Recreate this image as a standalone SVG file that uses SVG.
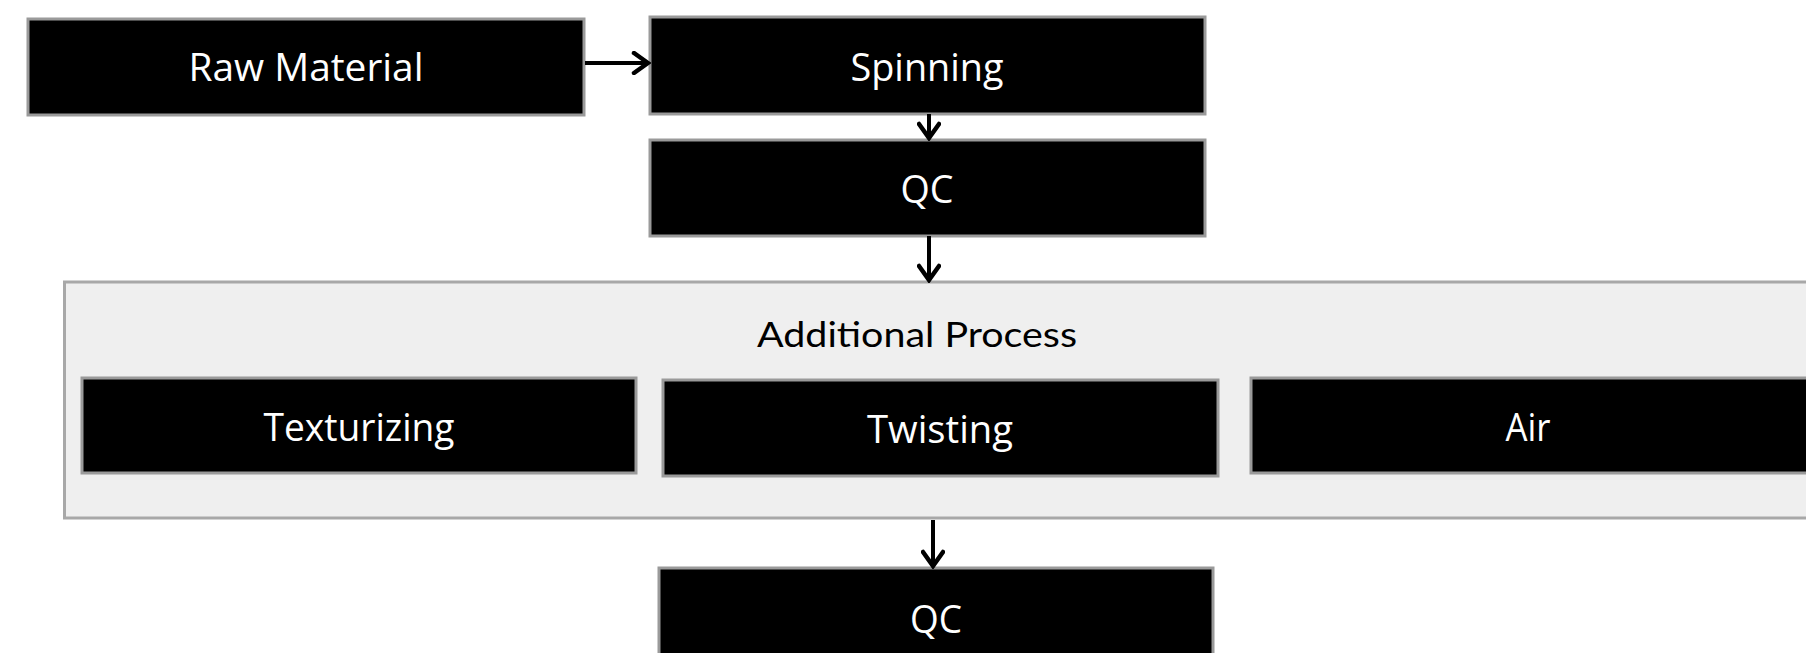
<svg xmlns="http://www.w3.org/2000/svg" width="1806" height="653" viewBox="0 0 1806 653">
<defs>
<style>
.box{fill:#000;stroke:#9a9a9a;stroke-width:3}
.lbl{fill:#fff;font-family:"Open Sans","Noto Sans",sans-serif;font-size:38px;text-anchor:middle;dominant-baseline:central}
.cont{fill:#efefef;stroke:#a8a8a8;stroke-width:3}
.title{fill:#000;font-family:"Lato","DejaVu Sans",sans-serif;font-size:35px;text-anchor:middle;dominant-baseline:central}
.conn{stroke:#000;stroke-width:4;fill:none}
</style>
<marker id="arr" viewBox="0 0 24 24" refX="21" refY="12" markerWidth="24" markerHeight="24" markerUnits="userSpaceOnUse" orient="auto">
<path d="M7,2 L21,12 L7,22" fill="none" stroke="#000" stroke-width="4.5" stroke-linecap="round" stroke-linejoin="miter"/>
</marker>
</defs>
<rect width="1806" height="653" fill="#fff"/>
<g id="additional-process">
<rect class="cont" x="64.5" y="282" width="1780" height="236"/>
<text class="title" x="917" y="333" textLength="320" lengthAdjust="spacingAndGlyphs">Additional Process</text>
</g>
<g id="raw-material">
<rect class="box" x="28" y="19" width="556" height="96"/>
<text class="lbl" x="306" y="66" textLength="235" lengthAdjust="spacingAndGlyphs">Raw Material</text>
</g>
<g id="spinning">
<rect class="box" x="650" y="17" width="555" height="97"/>
<text class="lbl" x="927" y="66" textLength="153" lengthAdjust="spacingAndGlyphs">Spinning</text>
</g>
<g id="qc1">
<rect class="box" x="650" y="140" width="555" height="96"/>
<text class="lbl" x="927" y="188" textLength="53" lengthAdjust="spacingAndGlyphs">QC</text>
</g>
<g id="texturizing">
<rect class="box" x="82" y="378" width="554" height="95"/>
<text class="lbl" x="359" y="426" textLength="191" lengthAdjust="spacingAndGlyphs">Texturizing</text>
</g>
<g id="twisting">
<rect class="box" x="663" y="380" width="555" height="96"/>
<text class="lbl" x="940" y="428" textLength="146" lengthAdjust="spacingAndGlyphs">Twisting</text>
</g>
<g id="air">
<rect class="box" x="1251" y="378" width="560" height="95"/>
<text class="lbl" x="1528" y="426" textLength="45" lengthAdjust="spacingAndGlyphs">Air</text>
</g>
<g id="qc2">
<rect class="box" x="659" y="568" width="554" height="100"/>
<text class="lbl" x="936" y="618" textLength="52" lengthAdjust="spacingAndGlyphs">QC</text>
</g>
<g id="connectors">
<line class="conn" x1="585" y1="63" x2="648" y2="63" marker-end="url(#arr)"/>
<line class="conn" x1="929" y1="114" x2="929" y2="138" marker-end="url(#arr)"/>
<line class="conn" x1="929" y1="236" x2="929" y2="280" marker-end="url(#arr)"/>
<line class="conn" x1="933" y1="520" x2="933" y2="566" marker-end="url(#arr)"/>
</g>
</svg>
